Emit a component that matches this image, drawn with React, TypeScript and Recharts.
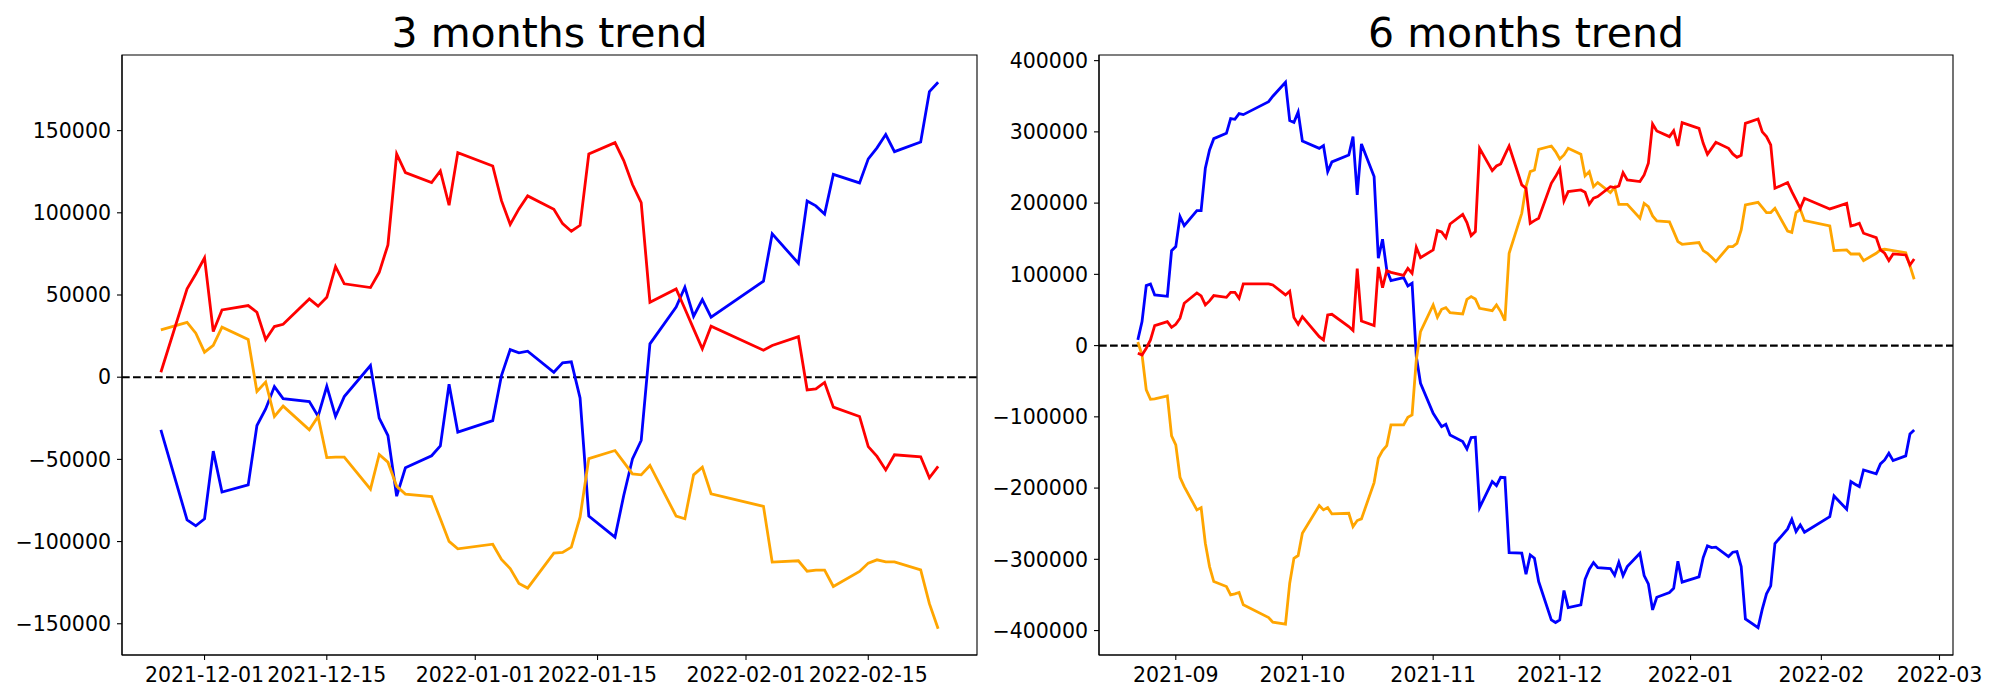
import type { CSSProperties } from "react";
import {
  Line,
  LineChart,
  ReferenceArea,
  ReferenceLine,
  XAxis,
  YAxis,
} from "recharts";

// ---- 3 months (KRX trading days) ----
const SHORT_DATES = [
  "2021-11-26", "2021-11-29", "2021-11-30",
  "2021-12-01", "2021-12-02", "2021-12-03", "2021-12-06", "2021-12-07", "2021-12-08",
  "2021-12-09", "2021-12-10", "2021-12-13", "2021-12-14", "2021-12-15", "2021-12-16",
  "2021-12-17", "2021-12-20", "2021-12-21", "2021-12-22", "2021-12-23", "2021-12-24",
  "2021-12-27", "2021-12-28", "2021-12-29", "2021-12-30",
  "2022-01-03", "2022-01-04", "2022-01-05", "2022-01-06", "2022-01-07", "2022-01-10",
  "2022-01-11", "2022-01-12", "2022-01-13", "2022-01-14", "2022-01-17", "2022-01-18",
  "2022-01-19", "2022-01-20", "2022-01-21", "2022-01-24", "2022-01-25", "2022-01-26",
  "2022-01-27", "2022-01-28",
  "2022-02-03", "2022-02-04", "2022-02-07", "2022-02-08", "2022-02-09", "2022-02-10",
  "2022-02-11", "2022-02-14", "2022-02-15", "2022-02-16", "2022-02-17", "2022-02-18",
  "2022-02-21", "2022-02-22", "2022-02-23",
];
const SHORT_BLUE = [
  -32000, -86800, -90400,
  -86100, -45000, -69900, -65500, -29400, -19300, -5700, -13000, -14800, -23700, -5500,
  -23900, -11800, 7100, -24900, -35500, -72400, -55100, -47800, -41800, -4300, -33400,
  -26400, 1000, 16800, 14800, 15800, 3000, 8700, 9300, -12600, -84500, -97300, -72000,
  -49700, -38500, 20300, 42600, 54700, 37100, 47200, 36500,
  58400, 87200, 69300, 107200, 104200, 99300, 123400, 118200, 132800, 139500, 147600,
  137200, 143100, 173700, 179400,
];
const SHORT_ORANGE = [
  28800, 33400, 26800,
  15200, 19300, 30400, 22900, -8700, -3000, -23900, -17600, -32000, -23900, -48900,
  -48600, -48600, -68100, -47000, -51700, -66300, -71100, -72600, -86100, -99900, -104400,
  -101600, -110900, -116400, -125500, -128300, -107000, -106600, -103400, -85100, -49500,
  -44600, -51700, -58800, -59400, -53700, -84500, -86100, -59400, -54700, -70900,
  -78600, -112500, -111700, -118000, -117400, -117400, -127300, -118200, -113100, -111100,
  -112300, -112300, -117200, -137800, -153000,
];
const SHORT_RED = [
  3000, 53700, 62800,
  72600, 27800, 40900, 43600, 39500, 22900, 30800, 32200, 47600, 43200, 48600, 67300,
  56800, 54500, 63800, 80500, 135800, 124500, 118400, 125500, 104600, 136600,
  128500, 107400, 93000, 102400, 110300, 102200, 93400, 88800, 92400, 135800, 142700,
  131800, 117200, 106200, 45600, 53700, 41600, 29400, 17200, 31000,
  16400, 19300, 24700, -7700, -7100, -3200, -18200, -23900, -42200, -48200, -56400,
  -47200, -48400, -61200, -54300,
];
const SHORT_X_TICKS = ["2021-12-01", "2021-12-15", "2022-01-01", "2022-01-15", "2022-02-01", "2022-02-15"];
const SHORT_X_LABELS = ["2021-12-01", "2021-12-15", "2022-01-01", "2022-01-15", "2022-02-01", "2022-02-15"];
const SHORT_Y_TICKS = [-150000, -100000, -50000, 0, 50000, 100000, 150000];

// ---- 6 months ----
const LONG_DATES = [
  "2021-08-23", "2021-08-24", "2021-08-25", "2021-08-26", "2021-08-27", "2021-08-30", "2021-08-31",
  "2021-09-01", "2021-09-02", "2021-09-03", "2021-09-06", "2021-09-07", "2021-09-08",
  "2021-09-09", "2021-09-10", "2021-09-13", "2021-09-14", "2021-09-15", "2021-09-16",
  "2021-09-17", "2021-09-23", "2021-09-24", "2021-09-27", "2021-09-28", "2021-09-29", "2021-09-30",
  "2021-10-01", "2021-10-05", "2021-10-06", "2021-10-07", "2021-10-08", "2021-10-12",
  "2021-10-13", "2021-10-14", "2021-10-15", "2021-10-18", "2021-10-19", "2021-10-20",
  "2021-10-21", "2021-10-22", "2021-10-25", "2021-10-26", "2021-10-27", "2021-10-28", "2021-10-29",
  "2021-11-01", "2021-11-02", "2021-11-03", "2021-11-04", "2021-11-05", "2021-11-08",
  "2021-11-09", "2021-11-10", "2021-11-11", "2021-11-12", "2021-11-15", "2021-11-16",
  "2021-11-17", "2021-11-18", "2021-11-19", "2021-11-22", "2021-11-23", "2021-11-24",
  "2021-11-25", "2021-11-26", "2021-11-29", "2021-11-30",
  "2021-12-01", "2021-12-02", "2021-12-03", "2021-12-06", "2021-12-07", "2021-12-08",
  "2021-12-09", "2021-12-10", "2021-12-13", "2021-12-14", "2021-12-15", "2021-12-16",
  "2021-12-17", "2021-12-20", "2021-12-21", "2021-12-22", "2021-12-23", "2021-12-24",
  "2021-12-27", "2021-12-28", "2021-12-29", "2021-12-30",
  "2022-01-03", "2022-01-04", "2022-01-05", "2022-01-06", "2022-01-07", "2022-01-10",
  "2022-01-11", "2022-01-12", "2022-01-13", "2022-01-14", "2022-01-17", "2022-01-18",
  "2022-01-19", "2022-01-20", "2022-01-21", "2022-01-24", "2022-01-25", "2022-01-26",
  "2022-01-27", "2022-01-28",
  "2022-02-03", "2022-02-04", "2022-02-07", "2022-02-08", "2022-02-09", "2022-02-10",
  "2022-02-11", "2022-02-14", "2022-02-15", "2022-02-16", "2022-02-17", "2022-02-18",
  "2022-02-21", "2022-02-22", "2022-02-23",
];
const LONG_BLUE = [
  8000, 33700, 84200, 86500, 71100, 69200, 133300,
  138900, 181000, 168400, 189500, 189500, 248900, 274600, 290500, 298000, 318600, 317600,
  325600, 324200, 342400, 350000, 369600, 315800, 313400, 327900,
  287200, 276900, 280700, 244200, 257800, 267600, 293300, 211400, 283000, 237200, 122600,
  149200, 106200, 91200, 95400, 83700, 87500, -15000, -52900,
  -95000, -104300, -113700, -110400, -125400, -134700, -145000, -129100, -128600, -227400,
  -190900, -196500, -184800, -185200, -290500, -291400, -320900, -293800, -298500, -331200,
  -385000, -388700,
  -385000, -343800, -367700, -364000, -328000, -313900, -304500, -311600, -313000, -322300,
  -304100, -322800, -310200, -291400, -322800, -334500, -371000, -353200, -346600, -340600,
  -302700, -332100,
  -324700, -297500, -281200, -283500, -283000, -296100, -290000, -289100, -310200, -383600,
  -395800, -370000, -348500, -337300, -277900, -257300, -243800, -261000, -251700, -262000,
  -240000, -211000, -229700, -190900, -194600, -197900, -174500, -180100, -166100, -160500,
  -151100, -161400, -154800, -124000, -118400,
];
const LONG_ORANGE = [
  5000, -13100, -62200, -75300, -74800, -70600, -126800,
  -139400, -184800, -197900, -230600, -227400, -277400, -310200, -331200, -338200, -349900,
  -348500, -346600, -363900, -381700, -388300, -391100, -333500, -298500, -294700,
  -263400, -224500, -230600, -227400, -236300, -235300, -254000, -245600, -243300, -192300,
  -158100, -147400, -140300, -111300, -111300, -100600, -97300, -20000, 19600,
  57100, 39800, 51000, 53300, 46300, 44400, 65000, 68800, 65500, 52400, 49100, 57100,
  47700, 35100, 129600, 185700, 223100, 244200, 246500, 275500, 280200, 272300,
  262000, 267600, 276900, 268500, 238100, 244200, 223100, 228800, 214700, 222200, 198300,
  198300, 198300, 178700, 199700, 195100, 182000, 175000, 173600, 160000, 146000, 142200,
  144600, 133300, 129600, 124000, 118000, 139000, 139000, 143600, 162300, 197400, 201200,
  194100, 186700, 186700, 192700, 160900, 159000, 186700, 191300, 175400,
  167900, 133300, 134300, 128600, 128600, 128600, 119300, 129600, 134300, 135200, 134300,
  133300, 130500, 111800, 93100,
];
const LONG_RED = [
  -10800, -13100, -3700, 8000, 28100, 33700, 25700,
  29900, 38400, 59400, 73900, 69700, 57100, 62700, 70200, 67800, 74800, 74800, 66400,
  86500, 86500, 85100, 71100, 76300, 39300, 29900,
  40700, 12600, 8000, 43000, 44000, 26700, 21100, 108100, 34600, 28100, 110400, 81400,
  105300, 102900, 98700, 108500, 101500, 138000, 123500,
  134300, 161400, 159500, 151600, 170700, 184300, 172600, 154400, 160000, 276900, 245600,
  252100, 255000, 267600, 280200, 225500, 220800, 171700, 175400, 178700, 227800, 237200,
  247900, 203000, 216100, 218500, 215200, 198300, 206800, 209100, 223100, 221700, 224100,
  242800, 232500, 230200, 239500, 255900, 311100, 301300, 293300, 301700, 280200, 313000,
  305000, 284000, 268500, 276900, 285400, 276900, 269000, 264300, 267100, 312000, 318100,
  300000, 293300, 281600, 220800, 228800, 216100, 204400, 192700, 206800,
  191800, 193700, 199700, 167900, 169400, 171700, 157700, 151600, 134300, 129600, 119300,
  128600, 127200, 113200, 121600,
];
const LONG_X_TICKS = ["2021-09-01", "2021-10-01", "2021-11-01", "2021-12-01", "2022-01-01", "2022-02-01", "2022-03-01"];
const LONG_X_LABELS = ["2021-09", "2021-10", "2021-11", "2021-12", "2022-01", "2022-02", "2022-03"];
const LONG_Y_TICKS = [-400000, -300000, -200000, -100000, 0, 100000, 200000, 300000, 400000];

const DAY = 86400000;
const toDay = (d: string) => Date.parse(d) / DAY;
const FONT = '"DejaVu Sans", sans-serif';

type PanelProps = {
  title: string;
  left: number;
  width: number;
  dates: string[];
  blue: number[];
  orange: number[];
  red: number[];
  xTicks: string[];
  xLabels: string[];
  yTicks: number[];
  yDomain: [number, number];
  margin: { top: number; right: number; bottom: number; left: number };
  yAxisWidth: number;
};

function TrendPanel(p: PanelProps) {
  const rows = p.dates.map((d, i) => ({
    x: toDay(d),
    blue: p.blue[i],
    orange: p.orange[i],
    red: p.red[i],
  }));
  const first = rows[0].x;
  const last = rows[rows.length - 1].x;
  const pad = (last - first) * 0.05;
  const xDomain: [number, number] = [first - pad, last + pad];
  const tickDays = p.xTicks.map(toDay);
  const plotLeft = p.margin.left + p.yAxisWidth;
  const plotRight = p.width - p.margin.right;

  return (
    <div style={{ position: "absolute", left: p.left, top: 0, width: p.width, height: 700 }}>
      <svg width={p.width} height={60} style={styles.titleSvg}>
        <text
          x={(plotLeft + plotRight) / 2}
          y={46.7}
          textAnchor="middle"
          fontFamily={FONT}
          fontSize={41}
          fill="#000"
        >
          {p.title}
        </text>
      </svg>
      <LineChart width={p.width} height={700} data={rows} margin={p.margin}>
        <XAxis
          dataKey="x"
          type="number"
          domain={xDomain}
          allowDataOverflow
          ticks={tickDays}
          interval={0}
          tickFormatter={(v: number) => p.xLabels[tickDays.indexOf(v)] ?? ""}
          height={40}
          tickSize={5}
          tickMargin={7}
          axisLine={{ stroke: "#000", strokeWidth: 1.1 }}
          tickLine={{ stroke: "#000", strokeWidth: 1.1 }}
          tick={{ fill: "#000", fontSize: 20.5, fontFamily: FONT }}
        />
        <YAxis
          type="number"
          domain={p.yDomain}
          allowDataOverflow
          ticks={p.yTicks}
          interval={0}
          tickFormatter={(v: number) => String(v).replace("-", "\u2212")}
          width={p.yAxisWidth}
          tickSize={5}
          tickMargin={6}
          axisLine={{ stroke: "#000", strokeWidth: 1.1 }}
          tickLine={{ stroke: "#000", strokeWidth: 1.1 }}
          tick={{ fill: "#000", fontSize: 20.5, fontFamily: FONT }}
        />
        <ReferenceArea
          x1={xDomain[0]}
          x2={xDomain[1]}
          y1={p.yDomain[0]}
          y2={p.yDomain[1]}
          fill="none"
          fillOpacity={0}
          stroke="#000"
          strokeWidth={1.1}
        />
        <ReferenceLine y={0} stroke="#000" strokeWidth={2.1} strokeDasharray="7.7 3.3" />
        <Line type="linear" dataKey="blue" stroke="#0000ff" strokeWidth={2.8} dot={false} isAnimationActive={false} />
        <Line type="linear" dataKey="orange" stroke="#ffa500" strokeWidth={2.8} dot={false} isAnimationActive={false} />
        <Line type="linear" dataKey="red" stroke="#ff0000" strokeWidth={2.8} dot={false} isAnimationActive={false} />
      </LineChart>
    </div>
  );
}

export default function App() {
  return (
    <div style={styles.page}>
      <TrendPanel
        title="3 months trend"
        left={0}
        width={1000}
        dates={SHORT_DATES}
        blue={SHORT_BLUE}
        orange={SHORT_ORANGE}
        red={SHORT_RED}
        xTicks={SHORT_X_TICKS}
        xLabels={SHORT_X_LABELS}
        yTicks={SHORT_Y_TICKS}
        yDomain={[-169000, 196000]}
        margin={{ top: 55, right: 23, bottom: 5, left: 22 }}
        yAxisWidth={100}
      />
      <TrendPanel
        title="6 months trend"
        left={960}
        width={1040}
        dates={LONG_DATES}
        blue={LONG_BLUE}
        orange={LONG_ORANGE}
        red={LONG_RED}
        xTicks={LONG_X_TICKS}
        xLabels={LONG_X_LABELS}
        yTicks={LONG_Y_TICKS}
        yDomain={[-434300, 407900]}
        margin={{ top: 55, right: 47, bottom: 5, left: 49 }}
        yAxisWidth={90}
      />
    </div>
  );
}

const styles: Record<string, CSSProperties> = {
  page: {
    position: "absolute",
    left: 0,
    top: 0,
    width: 2000,
    height: 700,
    background: "#fff",
    overflow: "hidden",
  },
  titleSvg: {
    position: "absolute",
    left: 0,
    top: 0,
  },
};
